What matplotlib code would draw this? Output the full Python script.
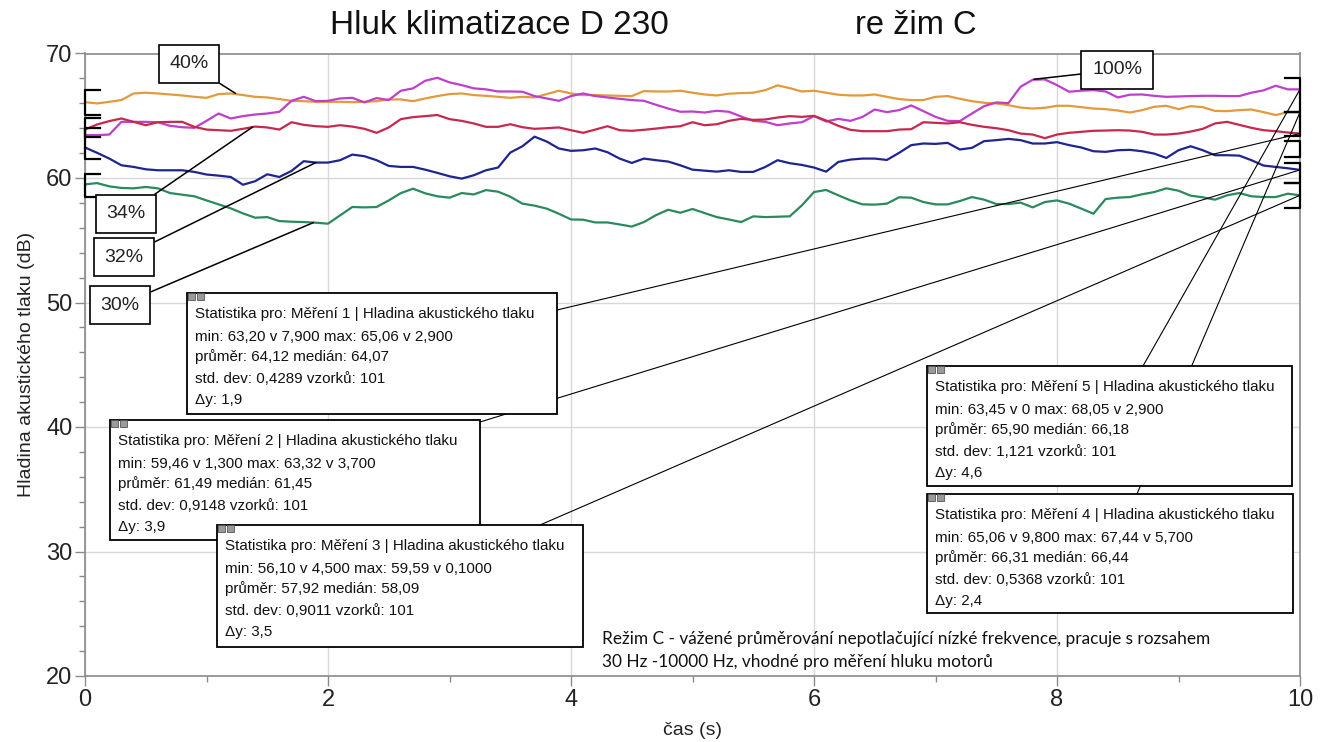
import matplotlib
matplotlib.use("Agg")
import matplotlib.pyplot as plt
from matplotlib.patches import Rectangle
from matplotlib.ticker import MultipleLocator

plt.rcParams['font.family'] = ['Liberation Sans', 'DejaVu Sans']

# ---------------- data ----------------
time_s = [round(i * 0.1, 1) for i in range(101)]

mereni4_40 = [66.09, 65.99, 66.12, 66.26, 66.79, 66.85, 66.79, 66.71, 66.63, 66.52,
              66.44, 66.74, 66.79, 66.66, 66.52, 66.47, 66.34, 66.20, 66.17, 66.12,
              66.12, 66.12, 66.09, 66.12, 66.17, 66.31, 66.31, 66.17, 66.39, 66.58,
              66.74, 66.79, 66.66, 66.60, 66.52, 66.44, 66.52, 66.47, 66.74, 67.01,
              66.79, 66.66, 66.66, 66.63, 66.60, 66.58, 66.98, 66.95, 66.95, 67.01,
              66.85, 66.71, 66.63, 66.77, 66.82, 66.85, 67.06, 67.44, 67.22, 66.95,
              67.01, 66.85, 66.69, 66.63, 66.63, 66.71, 66.52, 66.34, 66.26, 66.26,
              66.52, 66.58, 66.36, 66.17, 66.04, 65.99, 65.85, 65.66, 65.58, 65.64,
              65.80, 65.80, 65.69, 65.58, 65.53, 65.42, 65.26, 65.45, 65.72, 65.80,
              65.53, 65.77, 65.69, 65.39, 65.37, 65.45, 65.50, 65.29, 65.06, 65.29,
              65.29]

mereni5_100 = [63.45, 63.44, 63.49, 64.51, 64.51, 64.51, 64.48, 64.19, 64.08, 64.03,
               64.59, 65.18, 64.78, 64.97, 65.10, 65.18, 65.32, 66.20, 66.52, 66.17,
               66.20, 66.39, 66.44, 66.07, 66.42, 66.26, 67.01, 67.20, 67.81, 68.05,
               67.68, 67.46, 67.20, 67.12, 66.95, 66.95, 66.93, 66.58, 66.39, 66.20,
               66.58, 66.79, 66.58, 66.47, 66.36, 66.26, 66.20, 65.88, 65.58, 65.32,
               65.34, 65.26, 65.40, 65.32, 64.94, 64.59, 64.51, 64.24, 64.38, 64.48,
               64.97, 64.54, 64.75, 64.59, 64.91, 65.50, 65.29, 65.45, 65.83, 65.37,
               64.91, 64.59, 64.57, 65.18, 65.77, 66.07, 66.01, 67.33, 67.89, 67.92,
               67.46, 66.93, 67.01, 67.06, 66.95, 66.47, 66.69, 66.71, 66.60, 66.52,
               66.55, 66.58, 66.60, 66.60, 66.58, 66.58, 66.85, 67.04, 67.41, 67.12,
               67.12]

mereni1_34 = [63.89, 64.30, 64.57, 64.78, 64.51, 64.24, 64.48, 64.51, 64.51, 64.11,
              63.89, 63.84, 63.79, 63.95, 64.13, 64.06, 63.89, 64.48, 64.27, 64.16,
              64.11, 64.24, 64.13, 63.95, 63.63, 64.06, 64.73, 64.89, 64.97, 65.06,
              64.73, 64.59, 64.38, 64.11, 64.11, 64.32, 64.08, 63.95, 64.00, 64.06,
              63.84, 63.63, 63.89, 64.16, 63.84, 63.79, 63.87, 63.97, 64.08, 64.16,
              64.48, 64.24, 64.32, 64.59, 64.75, 64.67, 64.70, 64.86, 64.97, 64.91,
              64.99, 64.62, 64.19, 63.87, 63.76, 63.76, 63.76, 63.89, 63.92, 64.48,
              64.43, 64.38, 64.48, 64.27, 64.11, 64.00, 63.84, 63.57, 63.49, 63.20,
              63.49, 63.63, 63.71, 63.79, 63.81, 63.84, 63.81, 63.71, 63.49, 63.49,
              63.57, 63.73, 63.95, 64.38, 64.51, 64.27, 64.03, 63.84, 63.76, 63.65,
              63.57]

mereni2_32 = [62.45, 62.02, 61.56, 61.02, 60.89, 60.70, 60.62, 60.62, 60.62, 60.49,
              60.28, 60.19, 60.08, 59.46, 59.74, 60.30, 60.08, 60.57, 61.35, 61.24,
              61.24, 61.43, 61.88, 61.75, 61.43, 60.97, 60.89, 60.89, 60.67, 60.41,
              60.14, 59.95, 60.22, 60.62, 60.84, 62.04, 62.55, 63.32, 62.93, 62.37,
              62.18, 62.23, 62.37, 62.07, 61.56, 61.21, 61.56, 61.43, 61.32, 61.02,
              60.67, 60.59, 60.51, 60.62, 60.49, 60.49, 60.89, 61.43, 61.19, 61.05,
              60.84, 60.51, 61.29, 61.48, 61.56, 61.56, 61.45, 62.02, 62.64, 62.77,
              62.74, 62.82, 62.29, 62.42, 62.96, 63.04, 63.14, 63.04, 62.77, 62.77,
              62.88, 62.64, 62.45, 62.15, 62.10, 62.23, 62.26, 62.15, 61.96, 61.61,
              62.23, 62.55, 62.23, 61.83, 61.83, 61.80, 61.43, 61.00, 60.89, 60.78,
              60.65]

mereni3_30 = [59.49, 59.59, 59.33, 59.20, 59.17, 59.28, 59.17, 58.79, 58.66, 58.53,
              58.20, 57.88, 57.56, 57.16, 56.81, 56.86, 56.54, 56.49, 56.46, 56.41,
              56.33, 57.00, 57.67, 57.64, 57.67, 58.20, 58.79, 59.14, 58.77, 58.53,
              58.42, 58.79, 58.68, 59.03, 58.90, 58.50, 57.94, 57.78, 57.54, 57.13,
              56.67, 56.65, 56.43, 56.43, 56.27, 56.10, 56.46, 57.02, 57.45, 57.21,
              57.51, 57.18, 56.86, 56.67, 56.46, 56.92, 56.86, 56.89, 56.92, 57.80,
              58.87, 59.04, 58.61, 58.20, 57.88, 57.86, 57.94, 58.45, 58.42, 58.07,
              57.88, 57.88, 58.15, 58.47, 58.26, 57.91, 57.91, 58.02, 57.64, 58.07,
              58.20, 57.94, 57.54, 57.13, 58.31, 58.42, 58.47, 58.69, 58.87, 59.17,
              58.98, 58.58, 58.45, 58.26, 58.61, 58.79, 58.53, 58.47, 58.47, 58.74,
              58.61]

series = [
    ("40%", mereni4_40, "#E39A3B"),
    ("100%", mereni5_100, "#BE3FCB"),
    ("34%", mereni1_34, "#C8284E"),
    ("32%", mereni2_32, "#1E2490"),
    ("30%", mereni3_30, "#2A8A5E"),
]

stat_titles = ["Statistika pro: Měření 1 | Hladina akustického tlaku",
               "Statistika pro: Měření 2 | Hladina akustického tlaku",
               "Statistika pro: Měření 3 | Hladina akustického tlaku",
               "Statistika pro: Měření 5 | Hladina akustického tlaku",
               "Statistika pro: Měření 4 | Hladina akustického tlaku"]
stat_minmax = ["min: 63,20 v 7,900 max: 65,06 v 2,900",
               "min: 59,46 v 1,300 max: 63,32 v 3,700",
               "min: 56,10 v 4,500 max: 59,59 v 0,1000",
               "min: 63,45 v 0 max: 68,05 v 2,900",
               "min: 65,06 v 9,800 max: 67,44 v 5,700"]
stat_mean = ["průměr: 64,12 medián: 64,07",
             "průměr: 61,49 medián: 61,45",
             "průměr: 57,92 medián: 58,09",
             "průměr: 65,90 medián: 66,18",
             "průměr: 66,31 medián: 66,44"]
stat_std = ["std. dev: 0,4289 vzorků: 101",
            "std. dev: 0,9148 vzorků: 101",
            "std. dev: 0,9011 vzorků: 101",
            "std. dev: 1,121 vzorků: 101",
            "std. dev: 0,5368 vzorků: 101"]
stat_dy = ["Δy: 1,9", "Δy: 3,9", "Δy: 3,5", "Δy: 4,6", "Δy: 2,4"]
stat_series_end = [mereni1_34[-1], mereni2_32[-1], mereni3_30[-1],
                   mereni5_100[-1], mereni4_40[-1]]

title_left = "Hluk klimatizace D 230"
title_right = "re žim C"
note_lines = ["Režim C - vážené průměrování nepotlačující nízké frekvence, pracuje s rozsahem",
              "30 Hz -10000 Hz, vhodné pro měření hluku motorů"]

# ---------------- figure ----------------
W, H = 1322, 742
fig = plt.figure(figsize=(W / 100, H / 100), dpi=100)
fig.patch.set_facecolor("white")

ax_l, ax_r, ax_t, ax_b = 85, 1300, 53.5, 676
ax = fig.add_axes([ax_l / W, 1 - ax_b / H, (ax_r - ax_l) / W, (ax_b - ax_t) / H])


def fx(x):
    return x / W


def fy(y):
    return 1 - y / H


ax.set_xlim(0, 10)
ax.set_ylim(20, 70)
ax.xaxis.set_major_locator(MultipleLocator(2))
ax.xaxis.set_minor_locator(MultipleLocator(1))
ax.yaxis.set_major_locator(MultipleLocator(10))
ax.yaxis.set_minor_locator(MultipleLocator(2))
ax.grid(True, which="major", color="#d8d8d8", lw=1.0)
ax.set_axisbelow(True)
for sp in ax.spines.values():
    sp.set_color("#8a8a8a")
    sp.set_linewidth(1.2)
ax.tick_params(which="major", direction="out", length=7, width=1, color="#8a8a8a",
               labelsize=17, labelcolor="#222222", pad=2)
ax.tick_params(which="minor", direction="out", length=4, width=1, color="#8a8a8a")
ax.set_xlabel("čas (s)", fontsize=14, color="#222222", labelpad=8)
ax.set_ylabel("Hladina akustického tlaku (dB)", fontsize=14, color="#222222", labelpad=8)

for name, vals, col in series:
    ax.plot(time_s, vals, color=col, lw=1.6, zorder=3, solid_joinstyle="round")

# range brackets on left and right edges
left_brackets = [(67.1, 65.1), (64.8, 63.3), (64.0, 61.5), (60.3, 58.5)]
right_brackets = [(68.0, 65.3), (65.3, 63.4), (63.0, 61.7), (61.2, 59.6), (59.6, 57.6)]
for lo_hi in left_brackets:
    ax.plot([0.12, 0.0, 0.0, 0.12], [lo_hi[0], lo_hi[0], lo_hi[1], lo_hi[1]],
            color="black", lw=1.6, clip_on=False, zorder=4)
for lo_hi in right_brackets:
    ax.plot([9.88, 10.0, 10.0, 9.88], [lo_hi[0], lo_hi[0], lo_hi[1], lo_hi[1]],
            color="black", lw=1.6, clip_on=False, zorder=4)

# percentage labels
pct_pos = {"40%": ((189, 64), (1.24, 66.79)),
           "34%": ((126, 214), (1.38, 64.10)),
           "32%": ((124, 257), (1.90, 61.24)),
           "30%": ((120, 305), (1.88, 56.42)),
           "100%": ((1117, 70), (7.81, 67.93))}
for name, vals, col in series:
    (px, py), xy = pct_pos[name]
    ax.annotate(name, xy=xy, xycoords="data", xytext=(px, H - py),
                textcoords="figure pixels", ha="center", va="center", fontsize=14,
                color="#222222", annotation_clip=False, zorder=6,
                bbox=dict(boxstyle="square,pad=0.55", fc="white", ec="black", lw=1.2),
                arrowprops=dict(arrowstyle="-", color="black", lw=1.1,
                                shrinkA=0, shrinkB=0))

# statistics boxes: (left, top, right, bottom) in pixels, and leader start points
box_px = [(187, 293, 557, 414), (110, 420, 480, 540), (217, 525, 583, 647),
          (927, 366, 1292, 486), (927, 494, 1293, 613)]
leader_start = [(557, 310), (480, 422), (540, 525), (1143, 366), (1137, 494)]
box_z = [14, 10, 12, 18, 16]

for i in range(5):
    sx, sy = leader_start[i]
    ax.annotate("", xy=(10, stat_series_end[i]), xycoords="data",
                xytext=(sx, H - sy), textcoords="figure pixels",
                annotation_clip=False, zorder=5,
                arrowprops=dict(arrowstyle="-", color="black", lw=0.8,
                                shrinkA=0, shrinkB=0))

for i in range(5):
    l, t, r, b = box_px[i]
    z = box_z[i]
    fig.add_artist(Rectangle((fx(l), fy(b)), fx(r - l), (b - t) / H,
                             transform=fig.transFigure, fc="white", ec="black",
                             lw=1.3, zorder=z))
    # tiny window icons at the corner
    fig.add_artist(Rectangle((fx(l + 1), fy(t + 7)), fx(7), 7 / H, transform=fig.transFigure,
                             fc="#9a9a9a", ec="#555555", lw=0.6, zorder=z + 0.5))
    fig.add_artist(Rectangle((fx(l + 10), fy(t + 7)), fx(7), 7 / H, transform=fig.transFigure,
                             fc="#9a9a9a", ec="#555555", lw=0.6, zorder=z + 0.5))
    lines = [stat_titles[i], stat_minmax[i], stat_mean[i], stat_std[i], stat_dy[i]]
    offs = [21, 44, 64, 86, 107]
    for k, txt in enumerate(lines):
        fig.text(fx(l + 8), fy(t + offs[k]), txt, fontsize=10.9, color="#111111",
                 ha="left", va="center", zorder=z + 1)

# titles
fig.text(fx(330), fy(26), title_left, fontsize=24, color="#111111", ha="left", va="center")
fig.text(fx(855), fy(26), title_right, fontsize=23.5, color="#111111", ha="left", va="center")

# note
for k, txt in enumerate(note_lines):
    fig.text(fx(602), fy(639 + 23 * k), txt, fontsize=12.4, color="#111111",
             ha="left", va="center", family=["Lato", "DejaVu Sans"])

fig.savefig("out.png", dpi=100, facecolor="white")
